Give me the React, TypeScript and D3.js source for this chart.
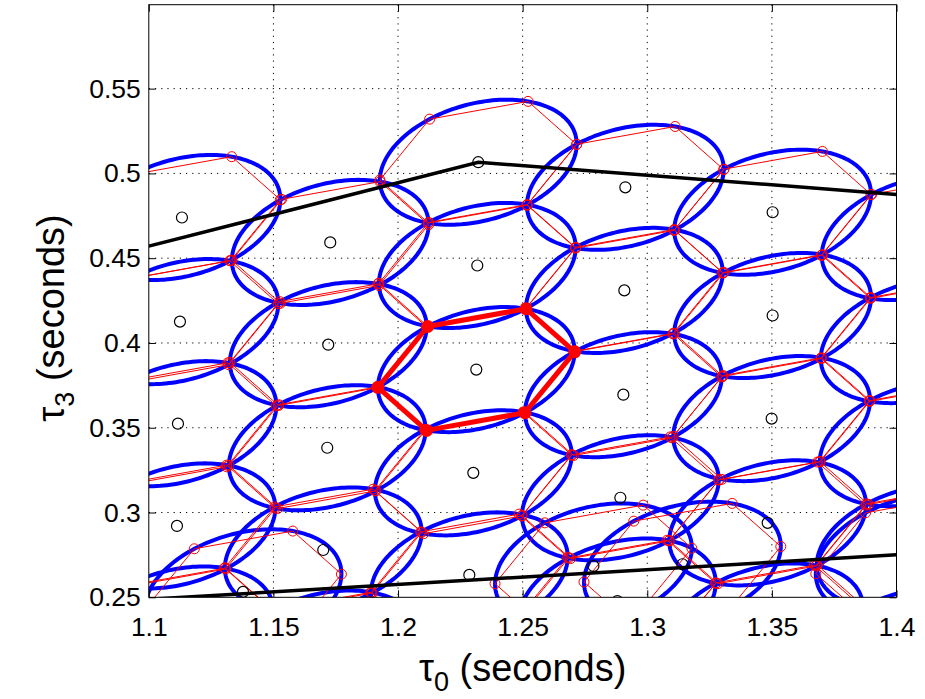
import { useEffect, useRef } from 'react'
import * as d3 from 'd3'

type Pt = [number, number]

// lattice templates, column by column (tau0, tau3 in seconds)
const templateTau0 = [
  1.1133, 1.1125, 1.1117, 1.1113, 1.1105,
  1.1728, 1.172, 1.1716, 1.17, 1.1692,
  1.2322, 1.2318, 1.2314, 1.2302, 1.2286,
  1.2912, 1.2908, 1.2904, 1.2892, 1.288,
  1.3503, 1.3503, 1.3499, 1.3483, 1.3471,
  1.4095, 1.4091, 1.4087, 1.4075, 1.4063,
]
const templateTau3 = [
  0.474, 0.4126, 0.3524, 0.2921, 0.2313,
  0.4593, 0.399, 0.3382, 0.2779, 0.2171,
  0.5066, 0.4457, 0.3843, 0.3234, 0.2632,
  0.4918, 0.431, 0.3695, 0.3087, 0.2478,
  0.4771, 0.4162, 0.3554, 0.2939, 0.2331,
  0.4622, 0.4014, 0.3406, 0.2797, 0.2189,
]

// extra templates added along the lower boundary
const boundaryTau0 = [1.1378, 1.2784, 1.3141, 1.4071]
const boundaryTau3 = [0.2532, 0.2685, 0.2695, 0.2744]

// template whose hexagon is highlighted
const selectedTemplate = 12

// ambiguity ellipse given by two conjugate semi-axes (tau0, tau3)
const ellipseAxisU = [0.03948, 0.01045]
const ellipseAxisV = [0.00026, 0.03538]

// parameter space boundary
const upperEdgeTau0 = [1.1, 1.2322, 1.4]
const upperEdgeTau3 = [0.4571, 0.5066, 0.4876]
const lowerEdgeTau0 = [1.1, 1.4]
const lowerEdgeTau3 = [0.2488, 0.2751]

const xTicks = [1.1, 1.15, 1.2, 1.25, 1.3, 1.35, 1.4]
const yTicks = [0.25, 0.3, 0.35, 0.4, 0.45, 0.5, 0.55]

const onEllipse = (c: Pt, deg: number): Pt => {
  const t = (deg * Math.PI) / 180
  return [
    c[0] + ellipseAxisU[0] * Math.cos(t) + ellipseAxisV[0] * Math.sin(t),
    c[1] + ellipseAxisU[1] * Math.cos(t) + ellipseAxisV[1] * Math.sin(t),
  ]
}

export default function App() {
  const ref = useRef<SVGSVGElement | null>(null)

  useEffect(() => {
    if (!ref.current) return

    const width = 925
    const height = 699
    const plot = { left: 148.8, right: 896.5, top: 4.7, bottom: 597.3 }
    const font = '"Liberation Sans", Arial, Helvetica, sans-serif'

    const svg = d3.select(ref.current)
    svg.selectAll('*').remove()

    const x = d3.scaleLinear().domain([1.1, 1.4]).range([plot.left, plot.right])
    const y = d3.scaleLinear().domain([0.25, 0.5995]).range([plot.bottom, plot.top])

    svg.append('rect').attr('width', width).attr('height', height).attr('fill', '#fff')

    svg
      .append('defs')
      .append('clipPath')
      .attr('id', 'plot-area')
      .append('rect')
      .attr('x', plot.left)
      .attr('y', plot.top)
      .attr('width', plot.right - plot.left)
      .attr('height', plot.bottom - plot.top)

    // dotted grid
    const grid = svg
      .append('g')
      .attr('stroke', '#000')
      .attr('stroke-width', 1)
      .attr('stroke-dasharray', '1.2 5')
    grid
      .selectAll('.gx')
      .data(xTicks.slice(1, -1))
      .enter()
      .append('line')
      .attr('class', 'gx')
      .attr('x1', (d) => x(d))
      .attr('x2', (d) => x(d))
      .attr('y1', plot.top)
      .attr('y2', plot.bottom)
    grid
      .selectAll('.gy')
      .data(yTicks.slice(1))
      .enter()
      .append('line')
      .attr('class', 'gy')
      .attr('x1', plot.left)
      .attr('x2', plot.right)
      .attr('y1', (d) => y(d))
      .attr('y2', (d) => y(d))

    const centres: Pt[] = templateTau0
      .map((t, i) => [t, templateTau3[i]] as Pt)
      .concat(boundaryTau0.map((t, i) => [t, boundaryTau3[i]] as Pt))

    const line = d3
      .line<Pt>()
      .x((d) => x(d[0]))
      .y((d) => y(d[1]))
      .curve(d3.curveLinearClosed)
    const path = d3
      .line<Pt>()
      .x((d) => x(d[0]))
      .y((d) => y(d[1]))

    const hexagon = (c: Pt) => d3.range(0, 360, 60).map((deg) => onEllipse(c, deg))
    const vertices = centres.flatMap((c) => hexagon(c))

    const g = svg.append('g').attr('clip-path', 'url(#plot-area)')

    g.selectAll('.ellipse')
      .data(centres)
      .enter()
      .append('path')
      .attr('class', 'ellipse')
      .attr('d', (c) => line(d3.range(0, 360, 2).map((deg) => onEllipse(c, deg))))
      .attr('fill', 'none')
      .attr('stroke', '#0000ff')
      .attr('stroke-width', 4)

    g.selectAll('.hex')
      .data(centres)
      .enter()
      .append('path')
      .attr('class', 'hex')
      .attr('d', (c) => line(hexagon(c)))
      .attr('fill', 'none')
      .attr('stroke', '#ff0000')
      .attr('stroke-width', 1)

    g.selectAll('.vertex')
      .data(vertices)
      .enter()
      .append('circle')
      .attr('class', 'vertex')
      .attr('cx', (d) => x(d[0]))
      .attr('cy', (d) => y(d[1]))
      .attr('r', 5)
      .attr('fill', 'none')
      .attr('stroke', '#ff0000')
      .attr('stroke-width', 1)

    const sel = centres[selectedTemplate]
    g.append('path')
      .attr('d', line(hexagon(sel)))
      .attr('fill', 'none')
      .attr('stroke', '#ff0000')
      .attr('stroke-width', 5)
      .attr('stroke-linejoin', 'round')
    g.selectAll('.sel-vertex')
      .data(hexagon(sel))
      .enter()
      .append('circle')
      .attr('class', 'sel-vertex')
      .attr('cx', (d) => x(d[0]))
      .attr('cy', (d) => y(d[1]))
      .attr('r', 6.5)
      .attr('fill', '#ff0000')

    g.selectAll('.centre')
      .data(centres)
      .enter()
      .append('circle')
      .attr('class', 'centre')
      .attr('cx', (d) => x(d[0]))
      .attr('cy', (d) => y(d[1]))
      .attr('r', 5.5)
      .attr('fill', 'none')
      .attr('stroke', '#000')
      .attr('stroke-width', 1.2)

    const edges: Pt[][] = [
      upperEdgeTau0.map((t, i) => [t, upperEdgeTau3[i]] as Pt),
      lowerEdgeTau0.map((t, i) => [t, lowerEdgeTau3[i]] as Pt),
    ]
    g.selectAll('.edge')
      .data(edges)
      .enter()
      .append('path')
      .attr('class', 'edge')
      .attr('d', (d) => path(d))
      .attr('fill', 'none')
      .attr('stroke', '#000')
      .attr('stroke-width', 3.5)

    // axes with inward ticks on all four sides
    const tick = 7
    const xAxis = svg
      .append('g')
      .attr('transform', `translate(0,${plot.bottom})`)
      .call(
        d3
          .axisBottom(x)
          .tickValues(xTicks)
          .tickSize(-tick)
          .tickSizeOuter(0)
          .tickPadding(20)
          .tickFormat((d) => String(d)),
      )
    const yAxis = svg
      .append('g')
      .attr('transform', `translate(${plot.left},0)`)
      .call(
        d3
          .axisLeft(y)
          .tickValues(yTicks)
          .tickSize(-tick)
          .tickSizeOuter(0)
          .tickPadding(8)
          .tickFormat((d) => String(d)),
      )
    const xTop = svg
      .append('g')
      .attr('transform', `translate(0,${plot.top})`)
      .call(d3.axisTop(x).tickValues(xTicks).tickSize(-tick).tickSizeOuter(0).tickFormat(() => ''))
    const yRight = svg
      .append('g')
      .attr('transform', `translate(${plot.right},0)`)
      .call(d3.axisRight(y).tickValues(yTicks).tickSize(-tick).tickSizeOuter(0).tickFormat(() => ''))

    for (const a of [xAxis, yAxis, xTop, yRight]) {
      a.select('.domain').remove()
      a.selectAll('line').attr('stroke', '#000')
    }
    for (const a of [xAxis, yAxis]) {
      a.selectAll('text').attr('font-size', 26.5).attr('font-family', font).attr('fill', '#000')
    }

    svg
      .append('rect')
      .attr('x', plot.left)
      .attr('y', plot.top)
      .attr('width', plot.right - plot.left)
      .attr('height', plot.bottom - plot.top)
      .attr('fill', 'none')
      .attr('stroke', '#000')
      .attr('stroke-width', 1)

    const xTitle = svg
      .append('text')
      .attr('x', (plot.left + plot.right) / 2)
      .attr('y', 681)
      .attr('text-anchor', 'middle')
      .attr('font-family', font)
      .attr('font-size', 38)
    xTitle.append('tspan').text('τ')
    xTitle.append('tspan').attr('font-size', 27).attr('dy', 10).text('0')
    xTitle.append('tspan').attr('dy', -10).text(' (seconds)')

    const yTitle = svg
      .append('text')
      .attr('transform', `translate(64,318) rotate(-90)`)
      .attr('text-anchor', 'middle')
      .attr('font-family', font)
      .attr('font-size', 38)
    yTitle.append('tspan').text('τ')
    yTitle.append('tspan').attr('font-size', 27).attr('dy', 10).text('3')
    yTitle.append('tspan').attr('dy', -10).text(' (seconds)')
  }, [])

  return (
    <svg
      ref={ref}
      width={925}
      height={699}
      style={{ position: 'absolute', left: 0, top: 0, display: 'block' }}
      role="img"
      aria-label="Template bank ellipses"
    />
  )
}
